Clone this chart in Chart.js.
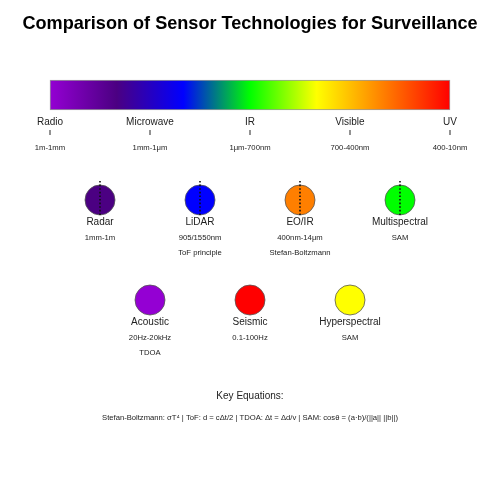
<!DOCTYPE html>
<html>
<head>
<meta charset="utf-8">
<title>Comparison of Sensor Technologies for Surveillance</title>
<script src="https://cdn.jsdelivr.net/npm/chart.js@4"></script>
<style>
  html, body { margin: 0; padding: 0; background: #fff; }
  canvas { display: block; }
</style>
</head>
<body>
<canvas id="chart" width="500" height="500"></canvas>
<script>
const TITLE = "Comparison of Sensor Technologies for Surveillance";
const EQ_HEADING = "Key Equations:";
const EQ_TEXT = "Stefan-Boltzmann: σT⁴ | ToF: d = cΔt/2 | TDOA: Δt = Δd/v | SAM: cosθ = (a·b)/(||a|| ||b||)";

// spectrum bar
const spectrumRange = [1, 9];
const spectrumLevel = 8.1;
const spectrumColors = ["#9400D3", "#4B0082", "#0000FF", "#00FF00", "#FFFF00", "#FF7F00", "#FF0000"];

// bands along the bar
const bandNames = ["Radio", "Microwave", "IR", "Visible", "UV"];
const bandRanges = ["1m-1mm", "1mm-1μm", "1μm-700nm", "700-400nm", "400-10nm"];
const bandX = [1, 3, 5, 7, 9];
const bandLevel = 7.35;

// sensors
const sensorNames = ["Radar", "LiDAR", "EO/IR", "Multispectral", "Acoustic", "Seismic", "Hyperspectral"];
const sensorSpecs = ["1mm-1m", "905/1550nm", "400nm-14μm", "SAM", "20Hz-20kHz", "0.1-100Hz", "SAM"];
const sensorNotes = ["", "ToF principle", "Stefan-Boltzmann", "", "TDOA", "", ""];
const sensorX = [2, 4, 6, 8, 3, 5, 7];
const sensorY = [6, 6, 6, 6, 4, 4, 4];
const sensorColors = ["#4B0082", "#0000FF", "#FF7F00", "#00FF00", "#9400D3", "#FF0000", "#FFFF00"];

// dotted guides through the top row
const guideX = [2, 4, 6, 8];
const guideSpan = [5.7, 6.38];

const FONT = "'Liberation Sans', Arial, sans-serif";

function spectrumFill(ctx) {
  const c = ctx.chart, x = c.scales.x;
  const x0 = x ? x.getPixelForValue(spectrumRange[0]) : NaN;
  const x1 = x ? x.getPixelForValue(spectrumRange[1]) : NaN;
  // scales are not laid out on the very first resolve
  if (!Number.isFinite(x0) || !Number.isFinite(x1)) return spectrumColors[0];
  const g = c.ctx.createLinearGradient(x0, 0, x1, 0);
  spectrumColors.forEach((col, i) => g.addColorStop(i / (spectrumColors.length - 1), col));
  return g;
}

// all labels hang off the scales, offsets in px
const textPlugin = {
  id: "texts",
  afterDatasetsDraw(chart) {
    const { ctx, scales: { x, y } } = chart;
    const put = (str, px, py, size, bold) => {
      if (!str) return;
      ctx.font = (bold ? "bold " : "") + size + "px " + FONT;
      ctx.fillText(str, px, py);
    };
    ctx.save();
    ctx.textAlign = "center";
    ctx.textBaseline = "middle";
    ctx.fillStyle = "#000";
    put(TITLE, 250, 24, 18.1, true);
    ctx.fillStyle = "#222";
    bandNames.forEach((n, i) => {
      const px = x.getPixelForValue(bandX[i]), py = y.getPixelForValue(bandLevel);
      put(n, px, py - 10.5, 10);
      put(bandRanges[i], px, py + 15, 7.7);
    });
    sensorNames.forEach((n, i) => {
      const px = x.getPixelForValue(sensorX[i]), py = y.getPixelForValue(sensorY[i]);
      put(n, px, py + 22, 10);
      put(sensorSpecs[i], px, py + 37.5, 7.7);
      put(sensorNotes[i], px, py + 52.5, 7.7);
    });
    put(EQ_HEADING, 250, 396.5, 10);
    put(EQ_TEXT, 250, 418, 7.65);
    ctx.restore();
  }
};

const guideSets = guideX.map((gx) => ({
  type: "line",
  data: guideSpan.map((v) => ({ x: gx, y: v })),
  borderColor: "#111",
  borderWidth: 1.6,
  borderDash: [1.6, 2],
  pointRadius: 0,
  fill: false,
}));

new Chart(document.getElementById("chart"), {
  type: "scatter",
  data: {
    datasets: [
      ...guideSets,
      {
        label: "Sensors",
        data: sensorX.map((v, i) => ({ x: v, y: sensorY[i] })),
        backgroundColor: sensorColors,
        borderColor: "#555",
        borderWidth: 0.8,
        pointRadius: 15,
      },
      {
        label: "Band ticks",
        data: bandX.map((v) => ({ x: v, y: bandLevel })),
        pointStyle: "line",
        rotation: 90,
        pointRadius: 2.5,
        borderColor: "#777",
        borderWidth: 1.6,
      },
      {
        type: "bar",
        indexAxis: "y",
        label: "Spectrum",
        data: [{ x: spectrumRange, y: spectrumLevel }],
        backgroundColor: spectrumFill,
        borderColor: "#999",
        borderWidth: 1,
        borderSkipped: false,
        barThickness: 30,
      },
    ],
  },
  options: {
    responsive: false,
    devicePixelRatio: 1,
    animation: false,
    layout: { padding: 0, autoPadding: false },
    plugins: { legend: { display: false }, title: { display: false }, tooltip: { enabled: false } },
    scales: {
      x: { type: "linear", min: 0, max: 10, display: false },
      // the bar controller turns offset on for its index axis
      y: { type: "linear", min: 0, max: 10, display: false, offset: false },
    },
  },
  plugins: [textPlugin],
});
</script>
</body>
</html>
